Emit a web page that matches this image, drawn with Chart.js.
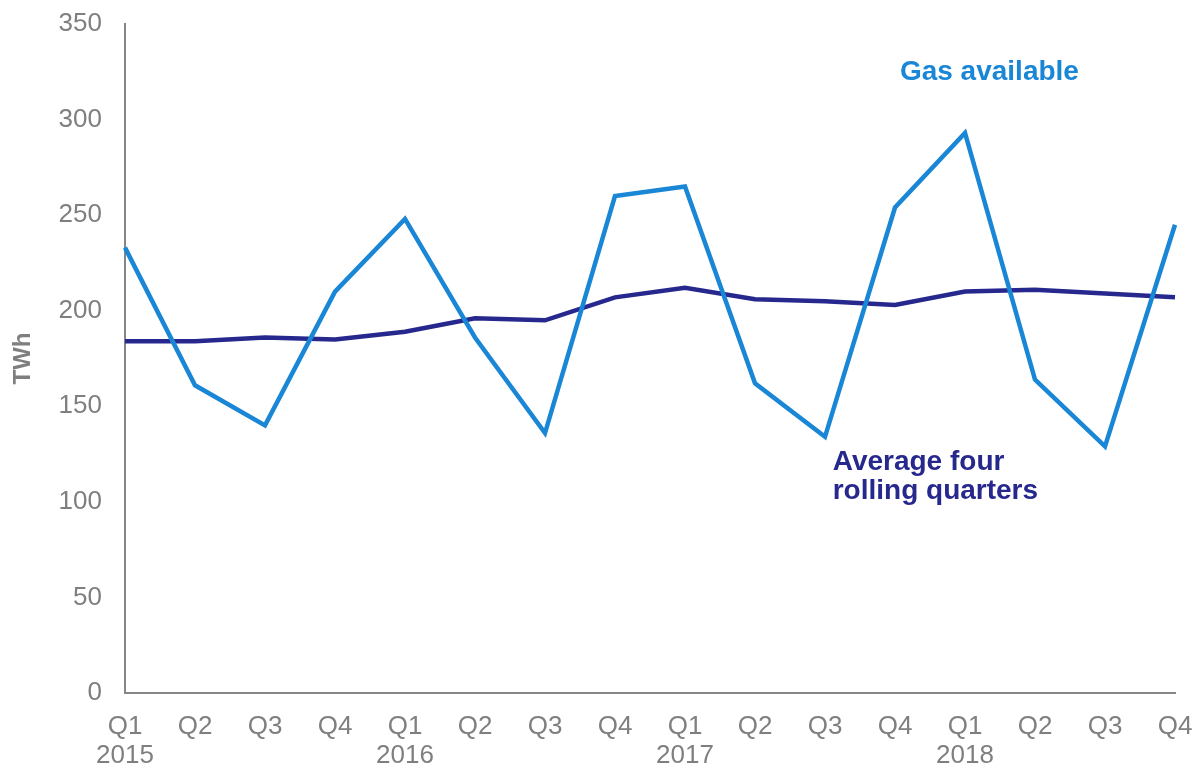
<!DOCTYPE html>
<html>
<head>
<meta charset="utf-8">
<script src="https://cdn.jsdelivr.net/npm/chart.js@4/dist/chart.umd.min.js"></script>
<style>
  html, body { margin: 0; padding: 0; background: #fff; }
  #wrap { width: 1199px; height: 769px; position: relative; }
</style>
</head>
<body>
<div id="wrap"><canvas id="gasChart"></canvas></div>
<script>
// quarters and years (year shown under each Q1)
const quarters = ['Q1', 'Q2', 'Q3', 'Q4', 'Q1', 'Q2', 'Q3', 'Q4', 'Q1', 'Q2', 'Q3', 'Q4', 'Q1', 'Q2', 'Q3', 'Q4'];
const years = ['2015', '', '', '', '2016', '', '', '', '2017', '', '', '', '2018', '', '', ''];

// TWh
const gasAvailable = [233, 161, 140, 210, 248, 186, 136, 260, 265, 162, 134, 254, 293, 164, 129, 245];
const rollingAverage = [184, 184, 186, 185, 189, 196, 195, 207, 212, 206, 205, 203, 210, 211, 209, 207];

const yTicks = [0, 50, 100, 150, 200, 250, 300, 350];

const GREY = '#7f7f7f';
const LIGHT_BLUE = '#1a86d6';
const NAVY = '#27288d';

const labels = quarters.map((q, i) => years[i] ? [q, years[i]] : q);

// series names written next to the lines, placed in data units
const seriesNotes = [
  { lines: ['Gas available'], x: 11.07, y: 320.8, color: LIGHT_BLUE },
  { lines: ['Average four', 'rolling quarters'], x: 10.11, y: 116.7, color: NAVY }
];

const notesPlugin = {
  id: 'seriesNotes',
  afterDatasetsDraw(chart) {
    const ctx = chart.ctx;
    const xs = chart.scales.x, ys = chart.scales.y;
    ctx.save();
    ctx.font = 'bold 28px "Liberation Sans", Arial, sans-serif';
    ctx.textAlign = 'left';
    ctx.textBaseline = 'alphabetic';
    seriesNotes.forEach(n => {
      ctx.fillStyle = n.color;
      const px = xs.getPixelForValue(n.x);
      const py = ys.getPixelForValue(n.y);
      n.lines.forEach((t, i) => ctx.fillText(t, px, py + i * 29));
    });
    ctx.restore();
  }
};

new Chart(document.getElementById('gasChart'), {
  type: 'line',
  data: {
    labels: labels,
    datasets: [
      {
        label: 'Gas available',
        data: gasAvailable,
        borderColor: LIGHT_BLUE,
        borderWidth: 4.5,
        pointRadius: 0,
        tension: 0
      },
      {
        label: 'Average four rolling quarters',
        data: rollingAverage,
        borderColor: NAVY,
        borderWidth: 4.5,
        pointRadius: 0,
        tension: 0
      }
    ]
  },
  options: {
    responsive: true,
    maintainAspectRatio: false,
    animation: false,
    layout: { padding: { top: 24, right: 24, left: 0, bottom: 0 } },
    plugins: {
      legend: { display: false },
      tooltip: { enabled: false }
    },
    scales: {
      x: {
        offset: false,
        grid: { display: false, drawTicks: false },
        border: { display: true, color: '#868686', width: 2 },
        ticks: {
          color: GREY,
          font: { family: '"Liberation Sans", Arial, sans-serif', size: 26, lineHeight: 1.12 },
          padding: 19,
          maxRotation: 0,
          autoSkip: false
        },
        afterFit(scale) {
          scale.height = 76;
          // keep the plot edges fixed; outer padding comes from layout
          scale.paddingLeft = 0;
          scale.paddingRight = 0;
        }
      },
      y: {
        min: 0,
        max: 350,
        afterBuildTicks(scale) { scale.ticks = yTicks.map(v => ({ value: v })); },
        grid: { display: false, drawTicks: false },
        border: { display: true, color: '#868686', width: 2 },
        ticks: {
          color: GREY,
          font: { family: '"Liberation Sans", Arial, sans-serif', size: 26 },
          padding: 23
        },
        title: {
          display: true,
          text: 'TWh',
          color: GREY,
          font: { family: '"Liberation Sans", Arial, sans-serif', size: 24, weight: 'bold' },
          padding: { top: 9, bottom: 0 }
        },
        afterFit(scale) {
          scale.width = 125;
          scale.paddingTop = 0;
          scale.paddingBottom = 0;
        }
      }
    }
  },
  plugins: [notesPlugin]
});
</script>
</body>
</html>
